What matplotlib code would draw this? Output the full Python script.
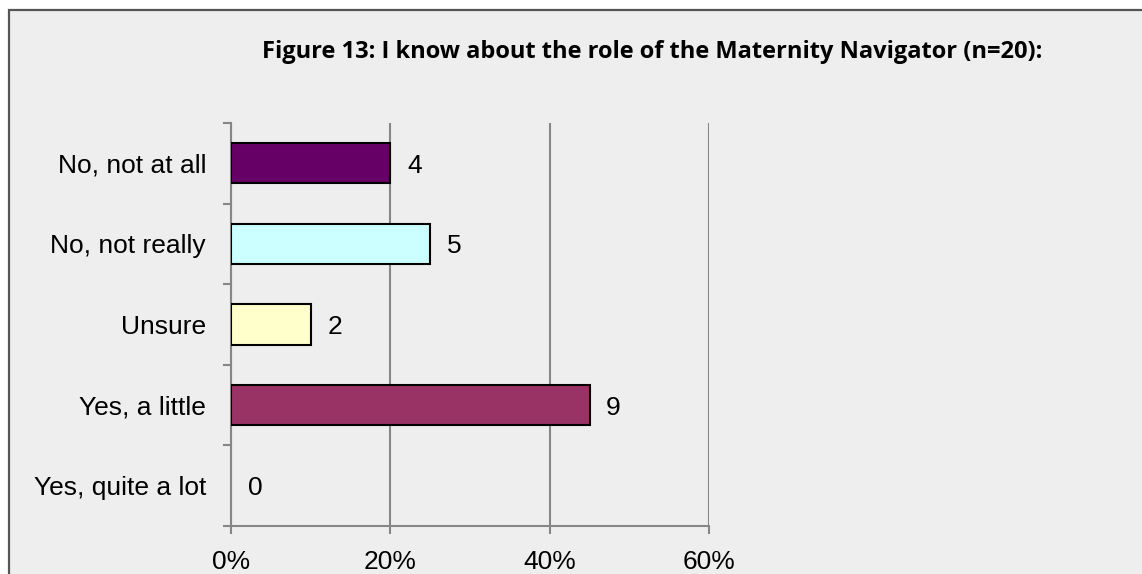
import matplotlib
matplotlib.use("Agg")
import matplotlib.pyplot as plt
from matplotlib.patches import Rectangle
from matplotlib.ticker import PercentFormatter

# datos del grafico
categorias = ["No, not at all", "No, not really", "Unsure", "Yes, a little", "Yes, quite a lot"]
conteos = [4, 5, 2, 9, 0]
total = 20
colores = ["#660066", "#CCFFFF", "#FFFFCC", "#993366", "#993366"]
porcentajes = [c / total * 100 for c in conteos]
titulo = "Figure 13: I know about the role of the Maternity Navigator (n=20):"

fig = plt.figure(figsize=(11.42, 5.74), dpi=100)
fig.patch.set_facecolor("white")

# marco gris del fondo (se corta a la derecha y abajo)
marco = Rectangle((8.5 / 1142, -0.05), 1.2, 1 - 9.5 / 574 + 0.05,
                  transform=fig.transFigure, facecolor="#EEEEEE",
                  edgecolor="#555555", linewidth=1.6, zorder=-5)
fig.patches.append(marco)

ax = fig.add_axes([231 / 1142, 1 - 526 / 574, (709 - 231) / 1142, (526 - 123) / 574])
ax.set_facecolor("none")
ax.set_zorder(2)

y = range(len(categorias))
bordes = ["black" if p > 0 else "none" for p in porcentajes]  # sin borde si vale 0
ax.barh(y, porcentajes, height=0.5, color=colores, edgecolor=bordes,
        linewidth=1.5, zorder=3)

for i, (p, c) in enumerate(zip(porcentajes, conteos)):
    ax.annotate(str(c), (p, i), xytext=(12, 0), textcoords="offset points",
                ha="left", va="center_baseline", fontsize=19, family="Liberation Sans")

ax.set_xlim(0, 60)
ax.set_ylim(len(categorias) - 0.5, -0.5)
ax.set_xticks([0, 20, 40, 60])
ax.xaxis.set_major_formatter(PercentFormatter(decimals=0))
ax.set_yticks([i - 0.5 for i in range(len(categorias) + 1)], minor=False)
ax.set_yticklabels([])
ax.set_yticks(list(y), minor=True)
ax.set_yticklabels(categorias, minor=True)

gris = "#868686"
ax.grid(axis="x", color=gris, linewidth=1.5, zorder=0)
for s in ["top", "right"]:
    ax.spines[s].set_visible(False)
for s in ["left", "bottom"]:
    ax.spines[s].set_color(gris)
    ax.spines[s].set_linewidth(1.5)

ax.tick_params(axis="y", which="major", length=6, width=1.5, color=gris)
ax.tick_params(axis="y", which="minor", length=0, pad=18, labelsize=19)
ax.tick_params(axis="x", length=6, width=1.5, color=gris, pad=11, labelsize=19)
for lab in ax.get_xticklabels() + ax.get_yticklabels(minor=True):
    lab.set_family("Liberation Sans")

fig.text(262 / 1142, 1 - 52 / 574, titulo, ha="left", va="center",
         fontsize=17, fontweight="bold", family="Open Sans")

fig.savefig("out.png", dpi=100)
